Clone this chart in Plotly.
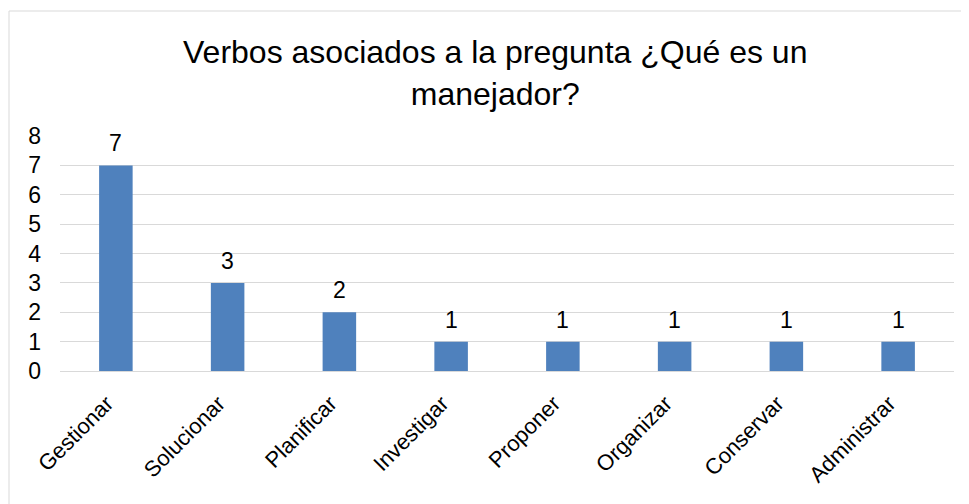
import plotly.graph_objects as go

verbos = ["Gestionar", "Solucionar", "Planificar", "Investigar",
          "Proponer", "Organizar", "Conservar", "Administrar"]
frecuencia = [7, 3, 2, 1, 1, 1, 1, 1]
y_ticks = [0, 1, 2, 3, 4, 5, 6, 7, 8]

FONT = "Liberation Sans, Arial, sans-serif"

# page body has an 8px margin, so the figure is sized 8px smaller
W, H = 961, 496
L, R, T, B = 52, 15, 128, 133
PW, PH = W - L - R, H - T - B

fig = go.Figure(go.Bar(
    x=verbos, y=frecuencia,
    marker=dict(color="#4F81BD", line=dict(width=0)),
))

# value labels above bars
for v, f in zip(verbos, frecuencia):
    fig.add_annotation(x=v, y=f, text=str(f), showarrow=False,
                       yanchor="bottom", yshift=7,
                       font=dict(family=FONT, size=23, color="black"))

fig.update_layout(
    width=W, height=H,
    margin=dict(l=L, r=R, t=T, b=B),
    paper_bgcolor="white", plot_bgcolor="white",
    bargap=0.7, showlegend=False,
    font=dict(family=FONT, color="black"),
    title=dict(
        text="Verbos asociados a la pregunta ¿Qué es un<br>manejador?",
        x=0.507, xanchor="center", y=1 - 55 / H, yanchor="middle",
        font=dict(family=FONT, size=32, color="black"),
    ),
    xaxis=dict(tickangle=-45, tickfont=dict(size=22), showline=True,
               linecolor="#d9d9d9", linewidth=1, ticks="",
               ticklabelshift=-9, ticklabelstandoff=10),
    yaxis=dict(range=[0, 8], tickvals=y_ticks, tickfont=dict(size=23),
               gridcolor="#d9d9d9", gridwidth=1, zeroline=False,
               ticklabelstandoff=18),
    shapes=[
        # chart border (top and left edges visible)
        dict(type="line", xref="paper", yref="paper",
             x0=(1 - L) / PW, x1=(W - L) / PW, y0=(H - B - 3) / PH, y1=(H - B - 3) / PH,
             line=dict(color="#d9d9d9", width=1)),
        dict(type="line", xref="paper", yref="paper",
             x0=(1 - L) / PW, x1=(1 - L) / PW, y0=(H - B - 3) / PH, y1=-B / PH,
             line=dict(color="#d9d9d9", width=1)),
    ],
)

fig.write_html("out.html")
